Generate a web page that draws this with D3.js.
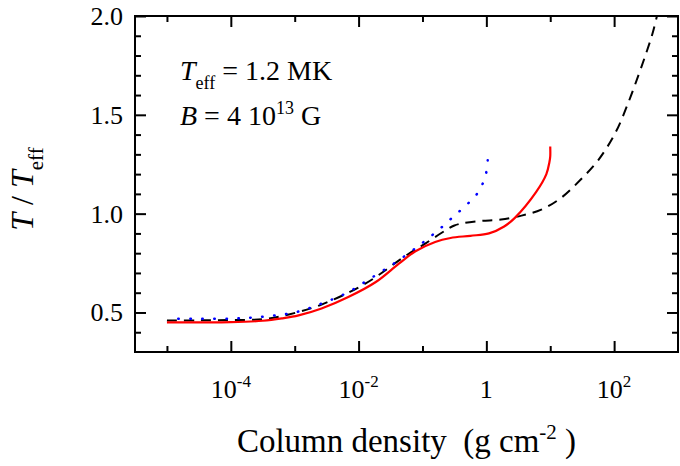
<!DOCTYPE html>
<html>
<head>
<meta charset="utf-8">
<script src="https://cdn.jsdelivr.net/npm/d3@7"></script>
<style>
  body { margin: 0; background: #fff; }
  svg text { font-family: "Liberation Serif", "Times New Roman", serif; fill: #000; white-space: pre; }
</style>
</head>
<body>
<div id="chart"></div>
<script>
// curves: column density (g cm^-2) and T / Teff
var redCol = [1e-5, 3.16e-5, 1e-4, 3.16e-4, 6.3e-4, 1.15e-3, 2.63e-3, 6.9e-3, 1.86e-2, 4.27e-2, 7.76e-2, 0.158, 0.275, 0.562, 1.1, 1.9, 2.82, 6.03, 8.7, 9.7, 10, 10];
var redT   = [0.45, 0.45, 0.451, 0.458, 0.47, 0.485, 0.52, 0.578, 0.654, 0.747, 0.81, 0.857, 0.877, 0.888, 0.90, 0.935, 0.98, 1.11, 1.20, 1.26, 1.29, 1.34];

var blueCol = [1e-5, 3.16e-5, 1e-4, 2.14e-4, 5.0e-4, 1.15e-3, 2.63e-3, 6.46e-3, 1.45e-2, 3.55e-2, 8.13e-2, 0.126, 0.19, 0.282, 0.437, 0.676, 0.871, 1.0, 1.05];
var blueT   = [0.468, 0.468, 0.469, 0.474, 0.485, 0.505, 0.545, 0.598, 0.667, 0.747, 0.83, 0.878, 0.925, 0.975, 1.03, 1.09, 1.15, 1.21, 1.27];

var blackCol = [1e-5, 3.16e-5, 1e-4, 3.16e-4, 8.1e-4, 2.63e-3, 1.29e-2, 5.37e-2, 0.112, 0.229, 0.316, 0.437, 0.832, 1.7, 3.55, 7.24, 14.8, 29.5, 56.2, 105, 166, 240, 316, 398, 468];
var blackT   = [0.46, 0.46, 0.462, 0.466, 0.49, 0.54, 0.647, 0.785, 0.85, 0.915, 0.94, 0.952, 0.963, 0.97, 0.99, 1.02, 1.08, 1.17, 1.27, 1.41, 1.56, 1.70, 1.81, 1.91, 2.0];

// ticks
var xMajor = [1e-4, 1e-2, 1, 1e2];
var xMajorExp = ["-4", "-2", "", "2"];
var xMinor = [1e-5, 1e-3, 1e-1, 1e1];
var yMajor = [0.5, 1.0, 1.5, 2.0];
var yMinor = [0.4, 0.6, 0.7, 0.8, 0.9, 1.1, 1.2, 1.3, 1.4, 1.6, 1.7, 1.8, 1.9];

var margin = {top: 16, right: 2, bottom: 114, left: 135},
    width = 680 - margin.left - margin.right,
    height = 466 - margin.top - margin.bottom;

var svg = d3.select("#chart")
  .append("svg")
    .attr("width", 680)
    .attr("height", 466)
  .append("g")
    .attr("transform", "translate(" + margin.left + "," + margin.top + ")");

var x = d3.scaleLog()
  .domain([Math.pow(10, -5.5), 1e3])
  .range([0, width]);

var y = d3.scaleLinear()
  .domain([0.3, 2.0])
  .range([height, 0]);

// axes: ticks point inwards on all four sides
function tickAxis(axisFn, scale, vals, size, tr) {
  var g = svg.append("g")
    .attr("transform", tr)
    .call(axisFn(scale).tickValues(vals).tickSize(size).tickFormat(""));
  g.select(".domain").remove();
  g.selectAll("line").attr("stroke", "#000").attr("stroke-width", 2);
  return g;
}
tickAxis(d3.axisBottom, x, xMajor, -11, "translate(0," + height + ")");
tickAxis(d3.axisBottom, x, xMinor, -6, "translate(0," + height + ")");
tickAxis(d3.axisTop, x, xMajor, -11, "translate(0,0)");
tickAxis(d3.axisTop, x, xMinor, -6, "translate(0,0)");
tickAxis(d3.axisLeft, y, yMajor, -11, "translate(0,0)");
tickAxis(d3.axisLeft, y, yMinor, -6, "translate(0,0)");
tickAxis(d3.axisRight, y, yMajor, -11, "translate(" + width + ",0)");
tickAxis(d3.axisRight, y, yMinor, -6, "translate(" + width + ",0)");

svg.append("rect")
  .attr("width", width)
  .attr("height", height)
  .attr("fill", "none")
  .attr("stroke", "#000")
  .attr("stroke-width", 2);

// x tick labels
var xl = svg.selectAll("xlab")
  .data(xMajor)
  .enter()
  .append("text")
    .attr("x", function(d) { return x(d); })
    .attr("y", height + 46)
    .attr("text-anchor", "middle")
    .style("font-size", "26px");
xl.append("tspan").text(function(d, i) { return xMajorExp[i] === "" ? "1" : "10"; });
xl.append("tspan")
  .attr("dy", -11)
  .style("font-size", "17px")
  .text(function(d, i) { return xMajorExp[i]; });

// y tick labels
svg.selectAll("ylab")
  .data(yMajor)
  .enter()
  .append("text")
    .attr("x", -12)
    .attr("y", function(d) { return y(d) + 9; })
    .attr("text-anchor", "end")
    .style("font-size", "26px")
    .text(function(d) { return d.toFixed(1); });

// axis titles
var xt = svg.append("text")
  .attr("x", width / 2)
  .attr("y", height + 100)
  .attr("text-anchor", "middle")
  .style("font-size", "33px");
xt.append("tspan").text("Column density  (g cm");
xt.append("tspan").attr("dy", -13).style("font-size", "21px").text("-2");
xt.append("tspan").attr("dy", 13).text(" )");

var yt = svg.append("text")
  .attr("transform", "translate(" + (-102) + "," + 173 + ") rotate(-90)")
  .attr("text-anchor", "middle")
  .style("font-size", "32px");
yt.append("tspan").style("font-style", "italic").text("T");
yt.append("tspan").text(" / ");
yt.append("tspan").style("font-style", "italic").text("T");
yt.append("tspan").attr("dy", 10).style("font-size", "21px").text("eff");

// annotation
var a1 = svg.append("text")
  .attr("x", 45)
  .attr("y", 64)
  .style("font-size", "28px");
a1.append("tspan").style("font-style", "italic").text("T");
a1.append("tspan").attr("dy", 9).style("font-size", "18px").text("eff");
a1.append("tspan").attr("dy", -9).text(" = 1.2 MK");

var a2 = svg.append("text")
  .attr("x", 45)
  .attr("y", 109)
  .style("font-size", "28px");
a2.append("tspan").style("font-style", "italic").text("B");
a2.append("tspan").text(" = 4 10");
a2.append("tspan").attr("dy", -11).style("font-size", "18px").text("13");
a2.append("tspan").attr("dy", 11).text(" G");

// curves
var line = d3.line()
  .x(function(d) { return x(d[0]); })
  .y(function(d) { return y(d[1]); })
  .curve(d3.curveCatmullRom);

svg.append("path")
  .datum(d3.zip(blackCol, blackT))
  .attr("d", line)
  .attr("fill", "none")
  .attr("stroke", "#000")
  .attr("stroke-width", 2)
  .attr("stroke-dasharray", "10,7");

var bluePath = svg.append("path")
  .datum(d3.zip(blueCol, blueT))
  .attr("d", line)
  .attr("fill", "none")
  .attr("stroke", "#0000ff")
  .attr("stroke-width", 2.5)
  .attr("stroke-linecap", "round")
  .attr("stroke-dasharray", "0.5,11.5");
// put a dot right at the end of the dotted curve
var bl = bluePath.node().getTotalLength();
bluePath.attr("stroke-dashoffset", (12 - (bl - 0.5) % 12) % 12);

svg.append("path")
  .datum(d3.zip(redCol, redT))
  .attr("d", line)
  .attr("fill", "none")
  .attr("stroke", "#ff0000")
  .attr("stroke-width", 2.2);
</script>
</body>
</html>
